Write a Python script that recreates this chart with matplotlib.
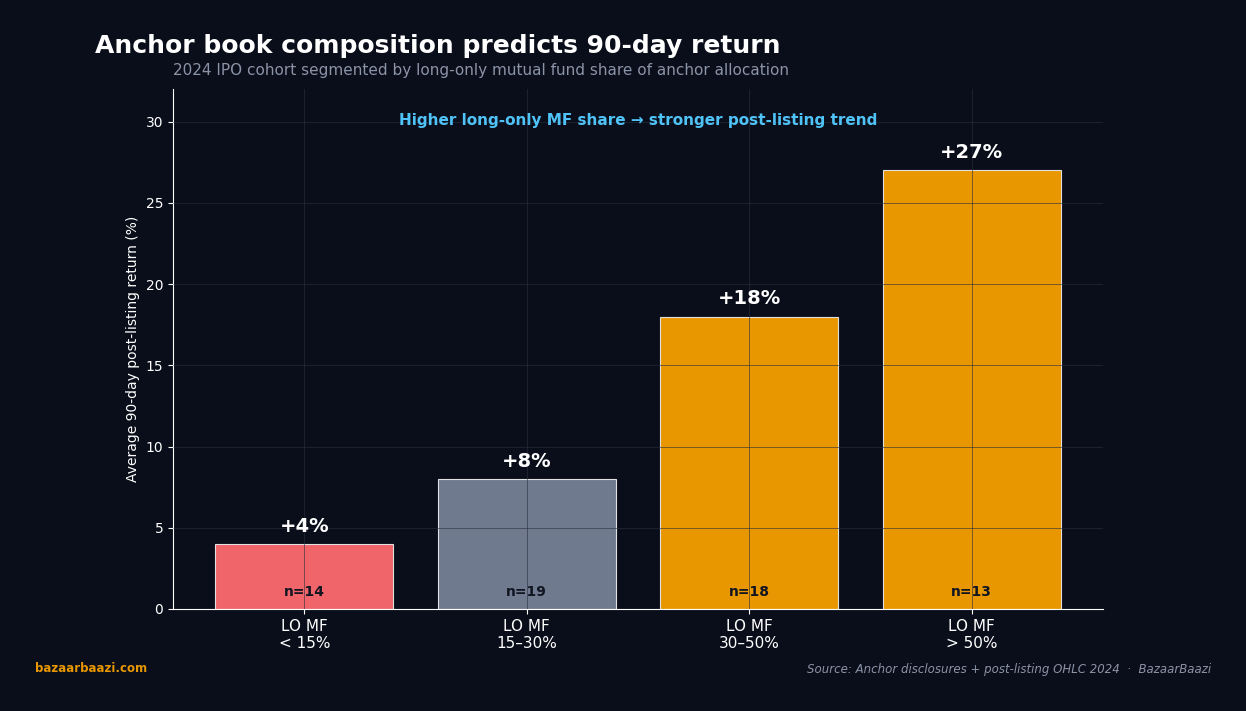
import matplotlib
matplotlib.use("Agg")
import matplotlib.pyplot as plt

categories = ["LO MF\n< 15%", "LO MF\n15–30%", "LO MF\n30–50%", "LO MF\n> 50%"]
returns = [4, 8, 18, 27]
counts = [14, 19, 18, 13]
colors = ["#f0656a", "#6f7a8f", "#e89700", "#e89700"]

BG = "#0a0e1a"
fig = plt.figure(figsize=(12.46, 7.11), dpi=100, facecolor=BG)
ax = fig.add_axes([173/1246, 1-609/711, 930/1246, 520/711])
ax.set_facecolor(BG)

x = list(range(len(categories)))
bars = ax.bar(x, returns, width=0.8, color=colors, edgecolor="#e0e0e0", linewidth=0.8, zorder=2)
ax.set_ylim(0, 32)
ax.set_xticks(x)
ax.set_xticklabels(categories, color="white", fontsize=11)
ax.tick_params(axis="y", colors="white", labelsize=10)
ax.tick_params(axis="x", colors="white")
for s in ["top", "right"]:
    ax.spines[s].set_visible(False)
for s in ["left", "bottom"]:
    ax.spines[s].set_color("white")
ax.grid(True, color="#2a3040", linewidth=0.7, alpha=0.6, zorder=3)
ax.set_axisbelow(False)
ax.set_ylabel("Average 90-day post-listing return (%)", color="white", fontsize=10)

for xi, v, n in zip(x, returns, counts):
    ax.text(xi, v + 0.52, f"+{v}%", ha="center", va="bottom", color="white", fontsize=14, fontweight="bold", zorder=4)
    ax.text(xi, 1.05, f"n={n}", ha="center", va="center", color="#111521", fontsize=10, fontweight="bold", zorder=4)

ax.text(0.5, 0.94, "Higher long-only MF share → stronger post-listing trend", transform=ax.transAxes,
        ha="center", va="center", color="#4fc3f7", fontsize=11, fontweight="bold")

fig.text(95/1246, 1-46/711, "Anchor book composition predicts 90-day return", color="white",
         fontsize=18, fontweight="bold", ha="left", va="center")
fig.text(173/1246, 1-70/711, "2024 IPO cohort segmented by long-only mutual fund share of anchor allocation",
         color="#8b93a7", fontsize=11, ha="left", va="center")
fig.text(35/1246, 1-669/711, "bazaarbaazi.com", color="#e89700", fontsize=8.5, fontweight="bold", ha="left", va="center")
fig.text(1211/1246, 1-669/711, "Source: Anchor disclosures + post-listing OHLC 2024  ·  BazaarBaazi",
         color="#8b93a7", fontsize=8.5, style="italic", ha="right", va="center")

fig.savefig("out.png", dpi=100, facecolor=BG)
